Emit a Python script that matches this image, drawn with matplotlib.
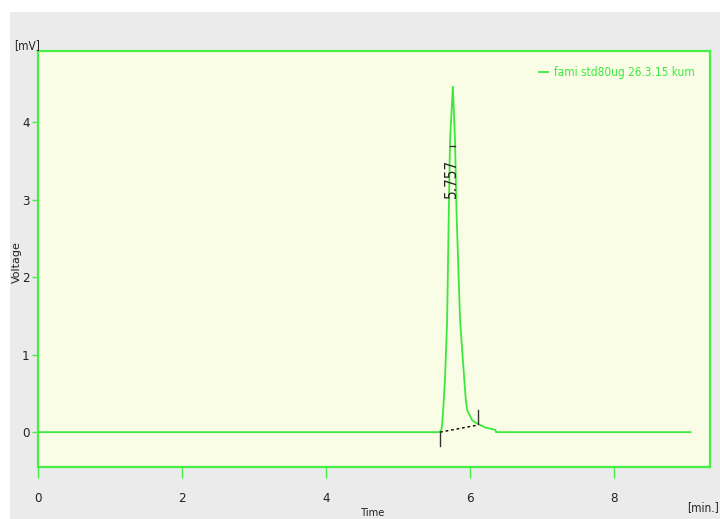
import matplotlib
matplotlib.use("Agg")
import matplotlib.pyplot as plt
from matplotlib.patches import Rectangle

# chromatogram trace (time [min], voltage [mV])
time_min = [0.0, 5.57, 5.60, 5.61, 5.625, 5.65, 5.68, 5.704, 5.72, 5.76,
            5.79, 5.81, 5.86, 5.89, 5.92, 5.94, 5.96, 6.03, 6.10, 6.21,
            6.35, 6.36, 9.06]
voltage = [0.0, 0.0, 0.03, 0.09, 0.28, 0.67, 1.43, 2.86, 3.76, 4.46,
           3.76, 2.86, 1.44, 1.05, 0.66, 0.41, 0.28, 0.15, 0.11, 0.06,
           0.03, 0.0, 0.0]

peak_rt = 5.757
peak_label_v = 3.27
base_start = (5.583, 0.0)
base_end = (6.097, 0.09)

x_ticks = [0, 2, 4, 6, 8]
y_ticks = [0, 1, 2, 3, 4]
legend_label = "fami std80ug 26.3.15 kum"

GREEN = "#3ce83c"
SPINE = "#44f044"
plt.rcParams["font.family"] = ["DejaVu Sans"]
plt.rcParams["font.stretch"] = "condensed"

fig = plt.figure(figsize=(7.2, 5.19), dpi=100, facecolor="white")
# grey window background under a thin white strip at top/left
fig.patches.append(Rectangle((10 / 720, 0), 1, 1 - 12 / 519, transform=fig.transFigure,
                             facecolor="#ebebeb", edgecolor="none", zorder=-10))

ax = fig.add_axes([38 / 720, 52 / 519, 672 / 720, 416 / 519])
ax.set_facecolor("#fafde6")
for s in ax.spines.values():
    s.set_color(SPINE)
    s.set_linewidth(1.6)

ax.plot(time_min, voltage, color=GREEN, lw=1.3, label=legend_label)

# integration marks
ax.plot([base_start[0], base_end[0]], [base_start[1], base_end[1]],
        ls=(0, (2, 2)), color="black", lw=1.0)
ax.plot([base_start[0], base_start[0]], [0.0, -0.18], color="#333333", lw=1.0)
ax.plot([base_end[0] + 0.01, base_end[0] + 0.01], [0.1, 0.28], color="#333333", lw=1.0)
ax.plot([peak_rt - 0.03, peak_rt + 0.03], [3.70, 3.70], color="#333333", lw=1.0)
ax.text(peak_rt - 0.01, peak_label_v, f"{peak_rt:.3f}", rotation=90, ha="center",
        va="center", fontsize=11, color="#222222")

ax.set_xlim(0, 9.33)
ax.set_ylim(-0.45, 4.92)
ax.set_xticks(x_ticks)
ax.set_yticks(y_ticks)
ax.tick_params(axis="x", colors=SPINE, length=8, width=1, labelcolor="#222222",
               labelsize=9.5, pad=10)
ax.tick_params(axis="y", colors=SPINE, length=4, width=1, labelcolor="#222222",
               labelsize=9.5, pad=2)

fig.text(14 / 720, 1 - 46 / 519, "[mV]", fontsize=8.5, color="#222222", va="center")
fig.text(17 / 720, 1 - 262 / 519, "Voltage", fontsize=8, rotation=90, color="#222222",
         ha="center", va="center", stretch="normal")
fig.text(373 / 720, 1 - 513 / 519, "Time", fontsize=8, color="#222222",
         ha="center", va="center")
fig.text(703 / 720, 1 - 508 / 519, "[min.]", fontsize=8.5, color="#222222",
         ha="center", va="center")

leg = ax.legend(loc="upper right", frameon=False, fontsize=8.5, handlelength=0.8,
                handletextpad=0.5, borderaxespad=0.9)
for t in leg.get_texts():
    t.set_color(GREEN)

fig.savefig("out.png", dpi=100, facecolor=fig.get_facecolor())
